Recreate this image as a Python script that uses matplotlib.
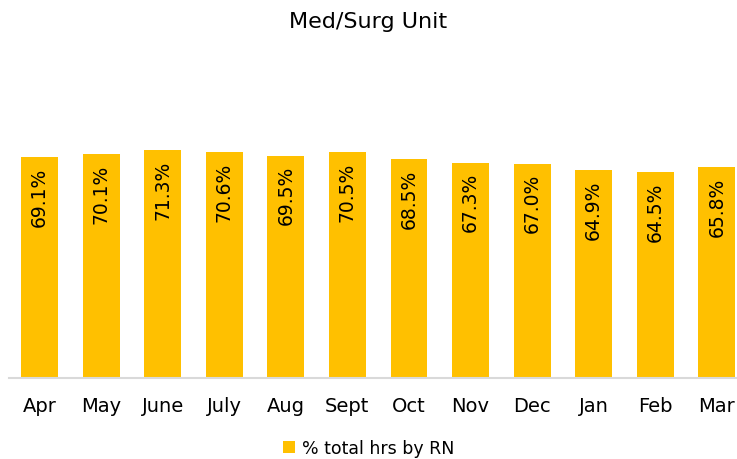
import matplotlib.pyplot as plt

months = ["Apr", "May", "June", "July", "Aug", "Sept", "Oct", "Nov", "Dec", "Jan", "Feb", "Mar"]
rn_pct = [69.1, 70.1, 71.3, 70.6, 69.5, 70.5, 68.5, 67.3, 67.0, 64.9, 64.5, 65.8]

bar_color = "#FFC000"

fig = plt.figure(figsize=(7.37, 4.6), dpi=100)
# plot area runs a bit past the right edge, like the original
ax = fig.add_axes([8.7 / 737, 1 - 379 / 460, 739 / 737, 320 / 460])

x = range(len(months))
bars = ax.bar(x, rn_pct, width=0.6, color=bar_color, label="% total hrs by RN")

# value labels, rotated, just inside the top of each bar
for xi, v in zip(x, rn_pct):
    ax.text(xi, v - 3.0, f"{v:.1f}%", rotation=90, ha="center", va="top",
            fontsize=13.5, color="black")

ax.set_ylim(0, 100)
ax.set_xlim(-0.5, len(months) - 0.5)
ax.set_xticks(list(x))
ax.set_xticklabels(months, fontsize=14)
ax.tick_params(axis="x", length=0, pad=13)
ax.set_yticks([])

for side in ["top", "right", "left"]:
    ax.spines[side].set_visible(False)
ax.spines["bottom"].set_color("#d9d9d9")
ax.spines["bottom"].set_linewidth(1.5)

fig.suptitle("Med/Surg Unit", y=1 - 22 / 460, va="center", fontsize=16)

fig.legend(handles=[bars], labels=["% total hrs by RN"], loc="center",
           bbox_to_anchor=(0.5, 1 - 449 / 460), frameon=False, fontsize=12.5,
           handlelength=0.7, handleheight=0.7, handletextpad=0.4)

fig.savefig("out.png", dpi=100)
